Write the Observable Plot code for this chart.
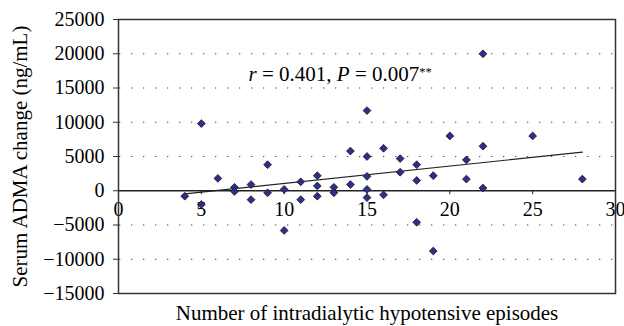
<!DOCTYPE html>
<html><head><meta charset="utf-8">
<script src="https://cdn.jsdelivr.net/npm/d3@7"></script>
<script src="https://cdn.jsdelivr.net/npm/@observablehq/plot@0.6"></script>
<style>html,body{margin:0;padding:0;background:#fff} svg{display:block} svg text{font-family:"Liberation Serif","Times New Roman",serif !important}</style>
</head><body><div id="chart"></div>
<script>
// Data
const episodes = [4,5,5,6,7,7,8,8,9,9,10,10,11,11,12,12,12,13,13,14,14,15,15,15,15,15,16,16,17,17,18,18,18,19,19,20,21,21,22,22,22,25,28];
const admaChange = [-800,9800,-2000,1800,500,-100,900,-1300,3800,-300,200,-5800,1300,-1300,2200,700,-800,500,-300,5800,900,11700,5000,2100,200,-1000,6200,-600,4700,2700,3800,1500,-4600,2200,-8800,8000,4500,1700,20000,6500,400,8000,1700];
const trendX = [4, 28];
const trendY = [-450, 5630];
const xTicks = [0,5,10,15,20,25,30];
const yTicks = [-15000,-10000,-5000,0,5000,10000,15000,20000,25000];
const gridTicks = [-10000,-5000,5000,10000,15000,20000];
const xLabel = "Number of intradialytic hypotensive episodes";
const yLabel = "Serum ADMA change (ng/mL)";
const statR = "0.401";
const statP = "0.007";

const points = episodes.map((x, i) => ({x, y: admaChange[i]}));
const trend = trendX.map((x, i) => ({x, y: trendY[i]}));
const font = "Liberation Serif";
const fmt = d => d < 0 ? "\u2212" + Math.abs(d) : String(d);

const chart = Plot.plot({
  width: 624, height: 326,
  marginLeft: 118, marginRight: 9, marginTop: 19, marginBottom: 33,
  style: {fontFamily: font, fontSize: "20px", background: "#fff", color: "#000", overflow: "visible"},
  x: {domain: [0, 30], axis: null},
  y: {domain: [-15000, 25000]},
  marks: [
    Plot.ruleY(gridTicks, {stroke: "#444", strokeDasharray: "1.3,10.7", strokeDashoffset: -1, strokeWidth: 1.2}),
    Plot.axisY(yTicks, {tickSize: 5, tickPadding: 9, fontSize: 20, fontFamily: font, label: null, stroke: "#333", tickFormat: fmt}),
    Plot.ruleY([0], {stroke: "#222", strokeWidth: 1.5}),
    Plot.ruleX(xTicks, {y1: 0, y2: 0, insetBottom: -4, stroke: "#222"}),
    Plot.text(xTicks, {x: d => d, y: 0, dy: 11, lineAnchor: "top", textAnchor: "middle", text: d => String(d), fontSize: 20, fontFamily: font}),
    Plot.frame({stroke: "#333", strokeWidth: 1.5}),
    Plot.line(trend, {x: "x", y: "y", stroke: "#222", strokeWidth: 1.2}),
    Plot.dot(points, {x: "x", y: "y", symbol: "square", rotate: 45, r: 3.1, fill: "#2b2f8f", stroke: "#1a1a1a", strokeWidth: 0.8}),
    Plot.text([yLabel], {frameAnchor: "left", dx: -98, rotate: -90, textAnchor: "middle", lineAnchor: "middle", text: d => d, fontSize: 21, fontFamily: font}),
    Plot.text([xLabel], {frameAnchor: "bottom", dy: 26, textAnchor: "middle", lineAnchor: "bottom", text: d => d, fontSize: 21, fontFamily: font}),
    Plot.text(["r = " + statR + ", P = " + statP + "**"], {x: () => 7.85, y: () => 15950, textAnchor: "start", lineAnchor: "bottom", text: d => d, fontSize: 21, fontFamily: font})
  ]
});
document.getElementById("chart").appendChild(chart);

// rich formatting for the statistics annotation
d3.select(chart).selectAll("text").filter(function() { return this.textContent.startsWith("r = "); })
  .each(function() {
    const t = d3.select(this);
    t.text(null);
    t.append("tspan").attr("font-style", "italic").text("r");
    t.append("tspan").text(" = " + statR + ", ");
    t.append("tspan").attr("font-style", "italic").text("P");
    t.append("tspan").text(" = " + statP);
    t.append("tspan").attr("dy", "-0.45em").attr("font-size", "0.6em").text("**");
  });
</script>
</body></html>
